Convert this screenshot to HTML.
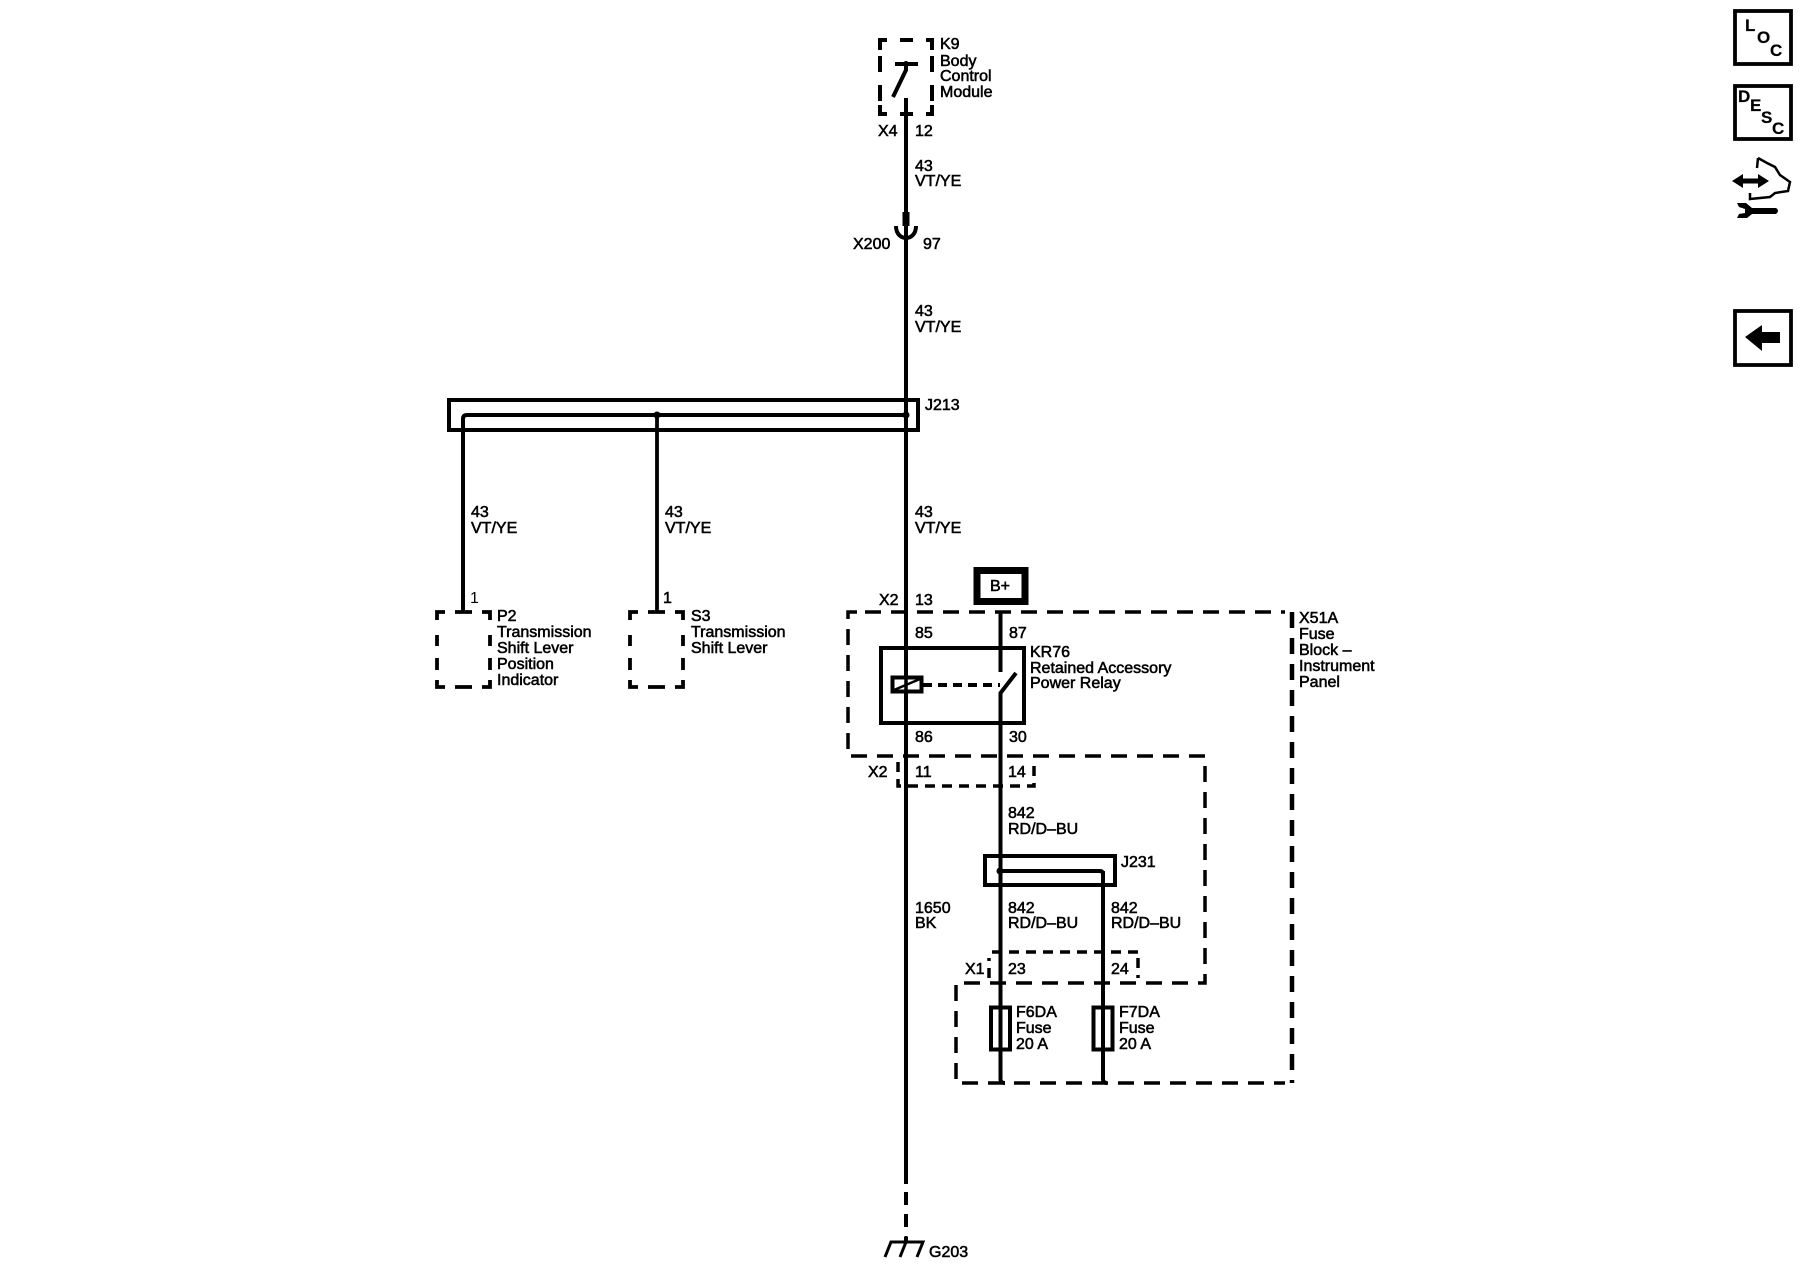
<!DOCTYPE html>
<html><head><meta charset="utf-8"><style>
html,body{margin:0;padding:0;background:#fff;width:1800px;height:1280px;overflow:hidden}
svg{display:block}
text{font-family:"Liberation Sans",sans-serif;font-size:16px;fill:#000;stroke:#000;stroke-width:.55}
.w{fill:none;stroke:#000;stroke-width:3.8}
.b{fill:none;stroke:#000;stroke-width:4}
.d{fill:none;stroke:#000;stroke-width:3.5;stroke-dasharray:16 10}
.s{fill:none;stroke:#000;stroke-width:3.5;stroke-dasharray:10 7}
.ic{font-weight:bold;font-size:17px;stroke-width:.2}
</style></head><body>
<svg width="1800" height="1280" viewBox="0 0 1800 1280" xmlns="http://www.w3.org/2000/svg">
<!-- main wire -->
<path class="b" d="M906 98V1184"/>
<path class="b" d="M906 1192V1205M906 1214V1227M906 1237V1243"/>
<!-- K9 -->
<path class="b" d="M880 50V40H887M900 40H913M926 40H932V50M880 56V72M880 85V101M880 105V114H887M900 114H913M926 114H932V105M932 85V101M932 56V72"/>
<path class="b" d="M895 64H918M906 64V70L893 97"/>
<circle cx="906" cy="64" r="3"/>
<text x="940" y="49">K9</text><text x="940" y="66">Body</text><text x="940" y="81">Control</text><text x="940" y="97">Module</text>
<text x="878" y="136">X4</text><text x="915" y="136">12</text>
<text x="915" y="171">43</text><text x="915" y="186">VT/YE</text>
<path d="M906 212V226" stroke="#000" stroke-width="7"/>
<path class="b" d="M896 226C896 242 916 242 916 226"/>
<text x="853" y="249">X200</text><text x="923" y="249">97</text>
<text x="915" y="316">43</text><text x="915" y="332">VT/YE</text>
<!-- J213 -->
<rect class="b" x="449" y="400" width="469" height="30"/>
<path class="b" d="M906 415H467Q463 415 463 419V611"/>
<path class="w" d="M657 415V611"/>
<circle cx="657" cy="415" r="3.5"/><circle cx="906" cy="415" r="3.5"/>
<text x="925" y="410">J213</text>
<text x="471" y="517">43</text><text x="471" y="533">VT/YE</text>
<text x="665" y="517">43</text><text x="665" y="533">VT/YE</text>
<text x="915" y="517">43</text><text x="915" y="533">VT/YE</text>
<text x="470" y="603" style="stroke-width:0">1</text><text x="663" y="603">1</text>
<!-- P2 -->
<path class="w" d="M445 612H437V620M455 612H472M482 612H490V620M437 635V646M437 658V670M437 680V687H445M455 687H472M482 687H490V680M490 635V646M490 658V670"/>
<text x="497" y="621">P2</text><text x="497" y="637">Transmission</text><text x="497" y="653">Shift Lever</text><text x="497" y="669">Position</text><text x="497" y="685">Indicator</text>
<!-- S3 -->
<path class="w" d="M638 612H630V620M648 612H665M675 612H683V620M630 635V646M630 658V670M630 680V687H638M648 687H665M675 687H683V680M683 635V646M683 658V670"/>
<text x="691" y="621">S3</text><text x="691" y="637">Transmission</text><text x="691" y="653">Shift Lever</text>
<!-- X51A outline -->
<path class="d" d="M857 612H848V756H1205V983H956V1083H1285"/>
<path class="d" d="M865 612H1285"/>
<path class="b" style="stroke-width:4.5;stroke-dasharray:16 10" d="M1295 612V1083" transform="translate(-3 0)"/>
<!-- X2 inner -->
<path class="s" d="M898 762V786H1034V762"/>
<!-- X1 inner -->
<path class="s" d="M989 978V958M992 952H1138M1138 958V978"/>
<!-- B+ -->
<rect x="977" y="570.5" width="48" height="31" fill="#fff" stroke="#000" stroke-width="7"/>
<text x="990" y="591">B+</text>
<text x="879" y="605">X2</text><text x="915" y="605">13</text>
<text x="915" y="638">85</text><text x="1009" y="638">87</text>
<!-- Relay -->
<rect class="b" x="881" y="648" width="143" height="75"/>
<rect x="892.5" y="677.5" width="29" height="14" fill="#fff" stroke="#000" stroke-width="4"/>
<path d="M894 690L920 679" stroke="#000" stroke-width="2.5"/>
<path d="M906 677V692" stroke="#000" stroke-width="3.5"/>
<path class="b" style="stroke-dasharray:9 6" d="M923 685H1000"/>
<path class="b" d="M1000.5 612V672M1016 673L1000.5 693V1079Q1000.5 1083 1005 1083"/>
<path class="b" d="M1103 871V1079Q1103 1083 1107 1083"/>
<text x="1030" y="657">KR76</text><text x="1030" y="673">Retained Accessory</text><text x="1030" y="688">Power Relay</text>
<text x="915" y="742">86</text><text x="1009" y="742">30</text>
<text x="868" y="777">X2</text><text x="915" y="777">11</text><text x="1008" y="777">14</text>
<text x="1299" y="623">X51A</text><text x="1299" y="639">Fuse</text><text x="1299" y="655">Block –</text><text x="1299" y="671">Instrument</text><text x="1299" y="687">Panel</text>
<text x="1008" y="818">842</text><text x="1008" y="834">RD/D–BU</text>
<!-- J231 -->
<rect class="b" x="985" y="856" width="132" height="29" transform="translate(0 0)" style="display:none"/>
<rect class="b" x="985" y="856" width="130" height="29"/>
<path class="b" d="M1000 871H1100Q1103 871 1103 875"/>
<circle cx="1000" cy="871" r="3.5"/>
<text x="1121" y="867">J231</text>
<text x="915" y="913">1650</text><text x="915" y="928">BK</text>
<text x="1008" y="913">842</text><text x="1008" y="928">RD/D–BU</text>
<text x="1111" y="913">842</text><text x="1111" y="928">RD/D–BU</text>
<text x="965" y="974">X1</text><text x="1008" y="974">23</text><text x="1111" y="974">24</text>
<!-- Fuses -->
<rect class="b" x="991" y="1007.5" width="19" height="42"/>
<rect class="b" x="1093.5" y="1007.5" width="19" height="42"/>
<text x="1016" y="1017">F6DA</text><text x="1016" y="1033">Fuse</text><text x="1016" y="1049">20 A</text>
<text x="1119" y="1017">F7DA</text><text x="1119" y="1033">Fuse</text><text x="1119" y="1049">20 A</text>
<!-- Ground -->
<path class="w" style="stroke-width:3" d="M885 1257L891 1242H923L917 1257M906 1242L900 1257M906 1236V1242"/>
<text x="929" y="1257">G203</text>
<!-- Icons -->
<rect class="w" x="1735" y="11" width="56" height="53"/>
<text class="ic" x="1745" y="31">L</text><text class="ic" x="1757" y="43">O</text><text class="ic" x="1770" y="56">C</text>
<rect class="w" x="1735" y="86" width="56" height="53"/>
<text class="ic" x="1738" y="102">D</text><text class="ic" x="1750" y="111">E</text><text class="ic" x="1761" y="123">S</text><text class="ic" x="1772" y="134">C</text>
<path d="M1732 181L1743 174V178.500H1758V174L1769 181L1758 188V183.500H1743V188Z"/>
<path class="w" style="stroke-width:2.500" d="M1758 158L1757 168M1758 158L1767 163L1775 167L1780 175L1790 182L1788 191L1775 193L1770 197L1750 199V193"/>
<path d="M1737 203L1746 203L1752 208H1776Q1780 210.500 1776 214H1752L1747 218L1737 218L1739 214L1745 213L1745 209L1739 207Z"/>
<rect class="w" x="1735" y="311" width="56" height="54"/>
<path d="M1745 337L1762 325V332H1780V343H1762V351Z"/>
</svg>
</body></html>
